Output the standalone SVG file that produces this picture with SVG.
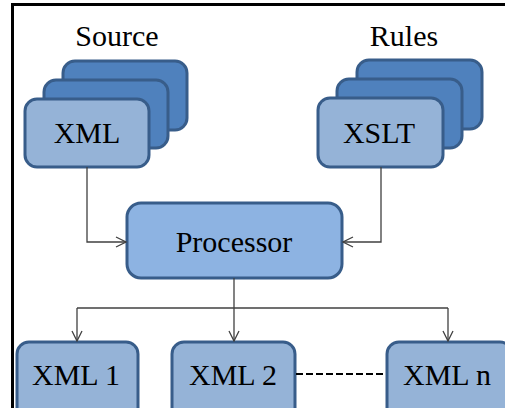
<svg xmlns="http://www.w3.org/2000/svg" width="505" height="408" viewBox="0 0 505 408">
<defs>
<style>
.back{fill:#4f81bd;stroke:#385d8a;stroke-width:3}
.front{fill:#95b3d7;stroke:#385d8a;stroke-width:3}
.proc{fill:#8db3e2;stroke:#385d8a;stroke-width:3}
.lbl{font-family:'Liberation Serif','Times New Roman',serif;font-size:30px;text-anchor:middle;fill:#000}
.c{fill:none;stroke:#404040;stroke-width:1.3}
</style>
<marker id="ah" viewBox="0 0 12 12" refX="11" refY="6" markerWidth="12" markerHeight="12" markerUnits="userSpaceOnUse" orient="auto">
<path d="M1,1 L11,6 L1,11" fill="none" stroke="#404040" stroke-width="1.3"/>
</marker>
</defs>
<rect width="505" height="408" fill="#fff"/>
<rect x="12.5" y="4.5" width="500" height="410" fill="none" stroke="#000" stroke-width="3"/>
<text class="lbl" x="117" y="46">Source</text>
<text class="lbl" x="404" y="46">Rules</text>
<g id="source">
<rect class="back" x="63" y="61" width="124" height="69" rx="12"/>
<rect class="back" x="44" y="80" width="124" height="68" rx="12"/>
<rect class="front" x="25" y="99" width="124" height="68" rx="12"/>
<text class="lbl" x="87" y="143">XML</text>
</g>
<g id="rules">
<rect class="back" x="357" y="60" width="125" height="69" rx="12"/>
<rect class="back" x="337" y="79" width="125" height="69" rx="12"/>
<rect class="front" x="318" y="98" width="125" height="69" rx="12"/>
<text class="lbl" x="379" y="143">XSLT</text>
</g>
<g id="processor">
<rect class="proc" x="127" y="203" width="215" height="75" rx="14"/>
<text class="lbl" x="234" y="252">Processor</text>
</g>
<g id="xml1">
<rect class="front" x="17" y="342" width="121" height="80" rx="12"/>
<text class="lbl" x="76" y="385">XML 1</text>
</g>
<g id="xml2">
<rect class="front" x="172" y="342" width="123" height="80" rx="12"/>
<text class="lbl" x="233" y="385">XML 2</text>
</g>
<g id="xmln">
<rect class="front" x="387" y="342" width="125" height="80" rx="12"/>
<text class="lbl" x="447" y="385">XML n</text>
</g>
<g id="connectors">
<path class="c" d="M87,167 V242 H126" marker-end="url(#ah)"/>
<path class="c" d="M381,167 V242 H343" marker-end="url(#ah)"/>
<path class="c" d="M234,278 V341" marker-end="url(#ah)"/>
<path class="c" d="M77,308 H448"/>
<path class="c" d="M77,308 V341" marker-end="url(#ah)"/>
<path class="c" d="M448,308 V341" marker-end="url(#ah)"/>
<path d="M296,374 H386" fill="none" stroke="#000" stroke-width="2.2" stroke-dasharray="7,3"/>
</g>
</svg>
